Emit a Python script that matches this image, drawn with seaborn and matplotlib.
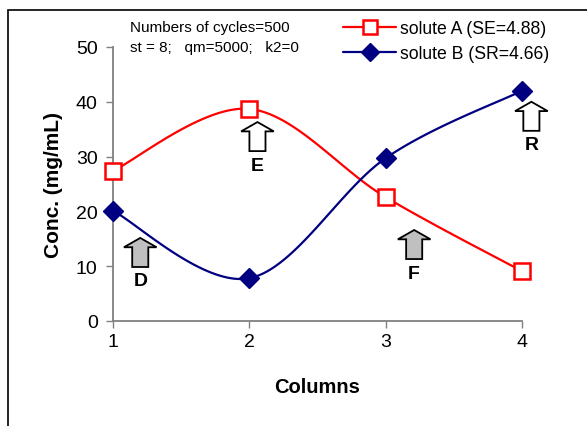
import numpy as np
import pandas as pd
import matplotlib
matplotlib.use("Agg")
import matplotlib.pyplot as plt
from matplotlib.lines import Line2D
from matplotlib.patches import FancyArrow, Rectangle
import seaborn as sns

columns = [1, 2, 3, 4]
solute_a = [27.4, 38.7, 22.6, 9.1]
solute_b = [20.1, 7.8, 29.7, 42.0]
label_a = "solute A (SE=4.88)"
label_b = "solute B (SR=4.66)"
note_lines = ["Numbers of cycles=500", "st = 8;   qm=5000;   k2=0"]
arrow_labels = ["D", "E", "F", "R"]
arrow_x = [1.2, 2.06, 3.21, 4.07]
arrow_base = [9.85, 31.0, 11.3, 34.7]
arrow_fill = ["#c0c0c0", "white", "#c0c0c0", "white"]

sns.set_theme(style="white", rc={"text.color": "black", "axes.labelcolor": "black",
                                 "xtick.color": "black", "ytick.color": "black"})
plt.rcParams["font.family"] = ["Liberation Sans", "DejaVu Sans"]


def smooth(xs, ys, n=40):
    """Excel-like smoothed line (Catmull-Rom Bezier)."""
    P = np.column_stack([xs, ys]).astype(float)
    P = np.vstack([P[0], P, P[-1]])
    out = []
    for i in range(1, len(P) - 2):
        p0, p1, p2, p3 = P[i - 1], P[i], P[i + 1], P[i + 2]
        c1 = p1 + (p2 - p0) / 6
        c2 = p2 - (p3 - p1) / 6
        t = np.linspace(0, 1, n)[:, None]
        seg = ((1 - t) ** 3) * p1 + 3 * ((1 - t) ** 2) * t * c1 + 3 * (1 - t) * t ** 2 * c2 + t ** 3 * p2
        out.append(seg if i == 1 else seg[1:])
    return np.vstack(out)

red = "#ff0000"
navy = "#000080"

fig = plt.figure(figsize=(5.87, 4.27), dpi=100)
ax = fig.add_axes([0.1925, 0.246, 0.889 - 0.1925, 0.8876 - 0.246])

ca = smooth(columns, solute_a)
cb = smooth(columns, solute_b)
curves = pd.DataFrame({
    "x": np.concatenate([ca[:, 0], cb[:, 0]]),
    "y": np.concatenate([ca[:, 1], cb[:, 1]]),
    "s": [label_a] * len(ca) + [label_b] * len(cb),
})
sns.lineplot(data=curves, x="x", y="y", hue="s", palette={label_a: red, label_b: navy},
             sort=False, estimator=None, linewidth=1.6, legend=False, ax=ax)
for ln in ax.lines:
    ln.set_clip_on(False)
ax.plot(columns, solute_a, linestyle="none", marker="s", markersize=11,
        markerfacecolor="white", markeredgecolor=red, markeredgewidth=1.8, zorder=5, clip_on=False)
ax.plot(columns, solute_b, linestyle="none", marker="D", markersize=10.5,
        markerfacecolor=navy, markeredgecolor=navy, zorder=5, clip_on=False)

# arrows
for lab, x, yb, fc in zip(arrow_labels, arrow_x, arrow_base, arrow_fill):
    ar = FancyArrow(x, yb, 0, 5.3, width=0.118, head_width=0.24, head_length=1.7,
                    length_includes_head=True, facecolor=fc, edgecolor="black", linewidth=1.3,
                    zorder=4, clip_on=False)
    ax.add_patch(ar)
    ax.text(x, yb - 1.0, lab, ha="center", va="top", fontsize=14, fontweight="bold",
            color="black", clip_on=False)

ax.set_xlim(1, 4)
ax.set_ylim(0, 50)
ax.set_xticks(columns)
ax.set_yticks([0, 10, 20, 30, 40, 50])
ax.tick_params(axis="both", direction="out", length=5, width=1, color="#808080",
               labelcolor="black", labelsize=14, pad=6, left=True, bottom=True)
ax.tick_params(axis="x", pad=4)
for side in ["top", "right"]:
    ax.spines[side].set_visible(False)
for side in ["left", "bottom"]:
    ax.spines[side].set_color("#808080")
    ax.spines[side].set_linewidth(1.3)
ax.set_facecolor("white")
ax.grid(False)
ax.set_xlabel("Columns", fontsize=14.5, fontweight="bold", labelpad=19, color="black")
ax.set_ylabel("Conc. (mg/mL)", fontsize=15, fontweight="bold", labelpad=9, color="black")

fig.text(130 / 587, 1 - 28 / 427, note_lines[0], fontsize=11, va="center", ha="left", color="black")
fig.text(130 / 587, 1 - 48 / 427, note_lines[1], fontsize=11, va="center", ha="left", color="black")

handles = [
    Line2D([], [], color=red, linewidth=1.6, marker="s", markersize=10,
           markerfacecolor="white", markeredgecolor=red, markeredgewidth=1.8),
    Line2D([], [], color=navy, linewidth=1.6, marker="D", markersize=9,
           markerfacecolor=navy, markeredgecolor=navy),
]
fig.legend(handles, [label_a, label_b], loc="upper left", bbox_to_anchor=(336 / 587, 1 - 14 / 427),
           frameon=False, fontsize=12.7, handlelength=3.0, handletextpad=0.2, labelspacing=0.45,
           borderaxespad=0, labelcolor="black")

# outer chart-area frame
fig.patches.append(Rectangle((8 / 587, -0.05), 1.2, 1 - 11 / 427 + 0.05, transform=fig.transFigure,
                             fill=False, edgecolor="black", linewidth=1.2))

fig.savefig("out.png", dpi=100, facecolor="white")
